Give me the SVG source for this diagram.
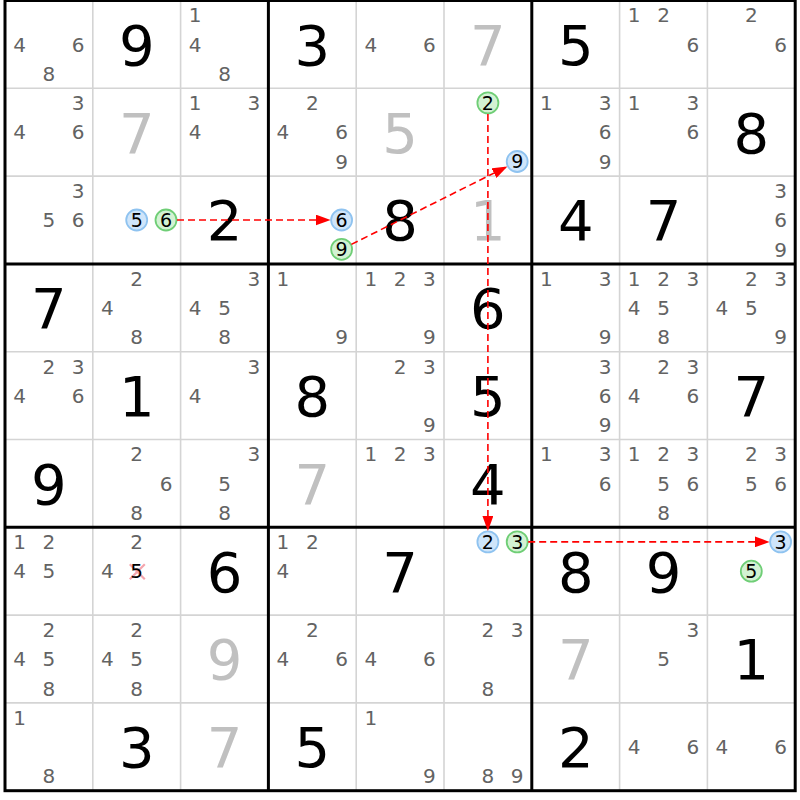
<svg xmlns="http://www.w3.org/2000/svg" width="800" height="800" viewBox="0 0 800 800">
<style>
text{font-family:"DejaVu Sans","Liberation Sans",sans-serif;text-anchor:middle}
.p{font-size:20px;fill:#636363}
.g{font-size:56px;fill:#000}
.s{font-size:56px;fill:#c0c0c0}
.ct{font-size:19px;fill:#000}
.cb{fill:#cfe5fa;stroke:#8fc3f0;stroke-width:1.8}
.cg{fill:#d3f2d3;stroke:#6fce76;stroke-width:1.8}
.thin{stroke:#d4d4d4;stroke-width:1.6}
.thick{stroke:#000;stroke-width:3}
.arr{stroke:#f00;stroke-width:1.6;stroke-dasharray:7 4;fill:none;marker-end:url(#ah)}
.x{stroke:#f4a4ac;stroke-width:2.2}
</style>
<defs>
<marker id="ah" markerUnits="userSpaceOnUse" markerWidth="15" markerHeight="11" refX="15" refY="5.5" orient="auto"><path d="M0,0 L15,5.5 L0,11 z" fill="#f00"/></marker>
</defs>
<rect x="0" y="0" width="800" height="800" fill="#fff"/>
<g id="grid">
<g class="thin">
<line x1="92.8" y1="0.5" x2="92.8" y2="790.7"/><line x1="180.6" y1="0.5" x2="180.6" y2="790.7"/>
<line x1="356.2" y1="0.5" x2="356.2" y2="790.7"/><line x1="444" y1="0.5" x2="444" y2="790.7"/>
<line x1="619.6" y1="0.5" x2="619.6" y2="790.7"/><line x1="707.4" y1="0.5" x2="707.4" y2="790.7"/>
<line x1="5" y1="88.3" x2="795.2" y2="88.3"/><line x1="5" y1="176.1" x2="795.2" y2="176.1"/>
<line x1="5" y1="351.7" x2="795.2" y2="351.7"/><line x1="5" y1="439.5" x2="795.2" y2="439.5"/>
<line x1="5" y1="615.1" x2="795.2" y2="615.1"/><line x1="5" y1="702.9" x2="795.2" y2="702.9"/>
</g>
<g class="thick">
<line x1="268.4" y1="0.5" x2="268.4" y2="790.7"/><line x1="531.8" y1="0.5" x2="531.8" y2="790.7"/>
<line x1="5" y1="263.9" x2="795.2" y2="263.9"/><line x1="5" y1="527.3" x2="795.2" y2="527.3"/>
<rect x="5" y="0.5" width="790.2" height="790.2" fill="none"/>
</g>
</g>
<g id="r1c1" transform="translate(5,0.5)"><text class="p" x="14.6" y="51.2">4</text><text class="p" x="73.2" y="51.2">6</text><text class="p" x="43.9" y="80.5">8</text></g>
<g id="r1c2" transform="translate(92.8,0.5)"><text class="g" x="43.9" y="64.3">9</text></g>
<g id="r1c3" transform="translate(180.6,0.5)"><text class="p" x="14.6" y="21.9">1</text><text class="p" x="14.6" y="51.2">4</text><text class="p" x="43.9" y="80.5">8</text></g>
<g id="r1c4" transform="translate(268.4,0.5)"><text class="g" x="43.9" y="64.3">3</text></g>
<g id="r1c5" transform="translate(356.2,0.5)"><text class="p" x="14.6" y="51.2">4</text><text class="p" x="73.2" y="51.2">6</text></g>
<g id="r1c6" transform="translate(444,0.5)"><text class="s" x="43.9" y="64.3">7</text></g>
<g id="r1c7" transform="translate(531.8,0.5)"><text class="g" x="43.9" y="64.3">5</text></g>
<g id="r1c8" transform="translate(619.6,0.5)"><text class="p" x="14.6" y="21.9">1</text><text class="p" x="43.9" y="21.9">2</text><text class="p" x="73.2" y="51.2">6</text></g>
<g id="r1c9" transform="translate(707.4,0.5)"><text class="p" x="43.9" y="21.9">2</text><text class="p" x="73.2" y="51.2">6</text></g>

<g id="r2c1" transform="translate(5,88.3)"><text class="p" x="73.2" y="21.9">3</text><text class="p" x="14.6" y="51.2">4</text><text class="p" x="73.2" y="51.2">6</text></g>
<g id="r2c2" transform="translate(92.8,88.3)"><text class="s" x="43.9" y="64.3">7</text></g>
<g id="r2c3" transform="translate(180.6,88.3)"><text class="p" x="14.6" y="21.9">1</text><text class="p" x="73.2" y="21.9">3</text><text class="p" x="14.6" y="51.2">4</text></g>
<g id="r2c4" transform="translate(268.4,88.3)"><text class="p" x="43.9" y="21.9">2</text><text class="p" x="14.6" y="51.2">4</text><text class="p" x="73.2" y="51.2">6</text><text class="p" x="73.2" y="80.5">9</text></g>
<g id="r2c5" transform="translate(356.2,88.3)"><text class="s" x="43.9" y="64.3">5</text></g>
<g id="r2c6" transform="translate(444,88.3)"><circle class="cg" cx="43.9" cy="14.6" r="10.5"/><text class="ct" x="43.9" y="21.5">2</text><circle class="cb" cx="73.2" cy="73.2" r="10.5"/><text class="ct" x="73.2" y="80.1">9</text></g>
<g id="r2c7" transform="translate(531.8,88.3)"><text class="p" x="14.6" y="21.9">1</text><text class="p" x="73.2" y="21.9">3</text><text class="p" x="73.2" y="51.2">6</text><text class="p" x="73.2" y="80.5">9</text></g>
<g id="r2c8" transform="translate(619.6,88.3)"><text class="p" x="14.6" y="21.9">1</text><text class="p" x="73.2" y="21.9">3</text><text class="p" x="73.2" y="51.2">6</text></g>
<g id="r2c9" transform="translate(707.4,88.3)"><text class="g" x="43.9" y="64.3">8</text></g>

<g id="r3c1" transform="translate(5,176.1)"><text class="p" x="73.2" y="21.9">3</text><text class="p" x="43.9" y="51.2">5</text><text class="p" x="73.2" y="51.2">6</text></g>
<g id="r3c2" transform="translate(92.8,176.1)"><circle class="cb" cx="43.9" cy="43.9" r="10.5"/><text class="ct" x="43.9" y="50.8">5</text><circle class="cg" cx="73.2" cy="43.9" r="10.5"/><text class="ct" x="73.2" y="50.8">6</text></g>
<g id="r3c3" transform="translate(180.6,176.1)"><text class="g" x="43.9" y="64.3">2</text></g>
<g id="r3c4" transform="translate(268.4,176.1)"><circle class="cb" cx="73.2" cy="43.9" r="10.5"/><text class="ct" x="73.2" y="50.8">6</text><circle class="cg" cx="73.2" cy="73.2" r="10.5"/><text class="ct" x="73.2" y="80.1">9</text></g>
<g id="r3c5" transform="translate(356.2,176.1)"><text class="g" x="43.9" y="64.3">8</text></g>
<g id="r3c6" transform="translate(444,176.1)"><text class="s" x="43.9" y="64.3">1</text></g>
<g id="r3c7" transform="translate(531.8,176.1)"><text class="g" x="43.9" y="64.3">4</text></g>
<g id="r3c8" transform="translate(619.6,176.1)"><text class="g" x="43.9" y="64.3">7</text></g>
<g id="r3c9" transform="translate(707.4,176.1)"><text class="p" x="73.2" y="21.9">3</text><text class="p" x="73.2" y="51.2">6</text><text class="p" x="73.2" y="80.5">9</text></g>

<g id="r4c1" transform="translate(5,263.9)"><text class="g" x="43.9" y="64.3">7</text></g>
<g id="r4c2" transform="translate(92.8,263.9)"><text class="p" x="43.9" y="21.9">2</text><text class="p" x="14.6" y="51.2">4</text><text class="p" x="43.9" y="80.5">8</text></g>
<g id="r4c3" transform="translate(180.6,263.9)"><text class="p" x="73.2" y="21.9">3</text><text class="p" x="14.6" y="51.2">4</text><text class="p" x="43.9" y="51.2">5</text><text class="p" x="43.9" y="80.5">8</text></g>
<g id="r4c4" transform="translate(268.4,263.9)"><text class="p" x="14.6" y="21.9">1</text><text class="p" x="73.2" y="80.5">9</text></g>
<g id="r4c5" transform="translate(356.2,263.9)"><text class="p" x="14.6" y="21.9">1</text><text class="p" x="43.9" y="21.9">2</text><text class="p" x="73.2" y="21.9">3</text><text class="p" x="73.2" y="80.5">9</text></g>
<g id="r4c6" transform="translate(444,263.9)"><text class="g" x="43.9" y="64.3">6</text></g>
<g id="r4c7" transform="translate(531.8,263.9)"><text class="p" x="14.6" y="21.9">1</text><text class="p" x="73.2" y="21.9">3</text><text class="p" x="73.2" y="80.5">9</text></g>
<g id="r4c8" transform="translate(619.6,263.9)"><text class="p" x="14.6" y="21.9">1</text><text class="p" x="43.9" y="21.9">2</text><text class="p" x="73.2" y="21.9">3</text><text class="p" x="14.6" y="51.2">4</text><text class="p" x="43.9" y="51.2">5</text><text class="p" x="43.9" y="80.5">8</text></g>
<g id="r4c9" transform="translate(707.4,263.9)"><text class="p" x="43.9" y="21.9">2</text><text class="p" x="73.2" y="21.9">3</text><text class="p" x="14.6" y="51.2">4</text><text class="p" x="43.9" y="51.2">5</text><text class="p" x="73.2" y="80.5">9</text></g>

<g id="r5c1" transform="translate(5,351.7)"><text class="p" x="43.9" y="21.9">2</text><text class="p" x="73.2" y="21.9">3</text><text class="p" x="14.6" y="51.2">4</text><text class="p" x="73.2" y="51.2">6</text></g>
<g id="r5c2" transform="translate(92.8,351.7)"><text class="g" x="43.9" y="64.3">1</text></g>
<g id="r5c3" transform="translate(180.6,351.7)"><text class="p" x="73.2" y="21.9">3</text><text class="p" x="14.6" y="51.2">4</text></g>
<g id="r5c4" transform="translate(268.4,351.7)"><text class="g" x="43.9" y="64.3">8</text></g>
<g id="r5c5" transform="translate(356.2,351.7)"><text class="p" x="43.9" y="21.9">2</text><text class="p" x="73.2" y="21.9">3</text><text class="p" x="73.2" y="80.5">9</text></g>
<g id="r5c6" transform="translate(444,351.7)"><text class="g" x="43.9" y="64.3">5</text></g>
<g id="r5c7" transform="translate(531.8,351.7)"><text class="p" x="73.2" y="21.9">3</text><text class="p" x="73.2" y="51.2">6</text><text class="p" x="73.2" y="80.5">9</text></g>
<g id="r5c8" transform="translate(619.6,351.7)"><text class="p" x="43.9" y="21.9">2</text><text class="p" x="73.2" y="21.9">3</text><text class="p" x="14.6" y="51.2">4</text><text class="p" x="73.2" y="51.2">6</text></g>
<g id="r5c9" transform="translate(707.4,351.7)"><text class="g" x="43.9" y="64.3">7</text></g>

<g id="r6c1" transform="translate(5,439.5)"><text class="g" x="43.9" y="64.3">9</text></g>
<g id="r6c2" transform="translate(92.8,439.5)"><text class="p" x="43.9" y="21.9">2</text><text class="p" x="73.2" y="51.2">6</text><text class="p" x="43.9" y="80.5">8</text></g>
<g id="r6c3" transform="translate(180.6,439.5)"><text class="p" x="73.2" y="21.9">3</text><text class="p" x="43.9" y="51.2">5</text><text class="p" x="43.9" y="80.5">8</text></g>
<g id="r6c4" transform="translate(268.4,439.5)"><text class="s" x="43.9" y="64.3">7</text></g>
<g id="r6c5" transform="translate(356.2,439.5)"><text class="p" x="14.6" y="21.9">1</text><text class="p" x="43.9" y="21.9">2</text><text class="p" x="73.2" y="21.9">3</text></g>
<g id="r6c6" transform="translate(444,439.5)"><text class="g" x="43.9" y="64.3">4</text></g>
<g id="r6c7" transform="translate(531.8,439.5)"><text class="p" x="14.6" y="21.9">1</text><text class="p" x="73.2" y="21.9">3</text><text class="p" x="73.2" y="51.2">6</text></g>
<g id="r6c8" transform="translate(619.6,439.5)"><text class="p" x="14.6" y="21.9">1</text><text class="p" x="43.9" y="21.9">2</text><text class="p" x="73.2" y="21.9">3</text><text class="p" x="43.9" y="51.2">5</text><text class="p" x="73.2" y="51.2">6</text><text class="p" x="43.9" y="80.5">8</text></g>
<g id="r6c9" transform="translate(707.4,439.5)"><text class="p" x="43.9" y="21.9">2</text><text class="p" x="73.2" y="21.9">3</text><text class="p" x="43.9" y="51.2">5</text><text class="p" x="73.2" y="51.2">6</text></g>

<g id="r7c1" transform="translate(5,527.3)"><text class="p" x="14.6" y="21.9">1</text><text class="p" x="43.9" y="21.9">2</text><text class="p" x="14.6" y="51.2">4</text><text class="p" x="43.9" y="51.2">5</text></g>
<g id="r7c2" transform="translate(92.8,527.3)"><text class="p" x="43.9" y="21.9">2</text><text class="p" x="14.6" y="51.2">4</text><line class="x" x1="37" y1="37" x2="52" y2="52"/><line class="x" x1="52" y1="37" x2="37" y2="52"/><text class="p" x="43.9" y="51.2" style="fill:#000">5</text></g>
<g id="r7c3" transform="translate(180.6,527.3)"><text class="g" x="43.9" y="64.3">6</text></g>
<g id="r7c4" transform="translate(268.4,527.3)"><text class="p" x="14.6" y="21.9">1</text><text class="p" x="43.9" y="21.9">2</text><text class="p" x="14.6" y="51.2">4</text></g>
<g id="r7c5" transform="translate(356.2,527.3)"><text class="g" x="43.9" y="64.3">7</text></g>
<g id="r7c6" transform="translate(444,527.3)"><circle class="cb" cx="43.9" cy="14.6" r="10.5"/><text class="ct" x="43.9" y="21.5">2</text><circle class="cg" cx="73.2" cy="14.6" r="10.5"/><text class="ct" x="73.2" y="21.5">3</text></g>
<g id="r7c7" transform="translate(531.8,527.3)"><text class="g" x="43.9" y="64.3">8</text></g>
<g id="r7c8" transform="translate(619.6,527.3)"><text class="g" x="43.9" y="64.3">9</text></g>
<g id="r7c9" transform="translate(707.4,527.3)"><circle class="cb" cx="73.2" cy="14.6" r="10.5"/><text class="ct" x="73.2" y="21.5">3</text><circle class="cg" cx="43.9" cy="43.9" r="10.5"/><text class="ct" x="43.9" y="50.8">5</text></g>

<g id="r8c1" transform="translate(5,615.1)"><text class="p" x="43.9" y="21.9">2</text><text class="p" x="14.6" y="51.2">4</text><text class="p" x="43.9" y="51.2">5</text><text class="p" x="43.9" y="80.5">8</text></g>
<g id="r8c2" transform="translate(92.8,615.1)"><text class="p" x="43.9" y="21.9">2</text><text class="p" x="14.6" y="51.2">4</text><text class="p" x="43.9" y="51.2">5</text><text class="p" x="43.9" y="80.5">8</text></g>
<g id="r8c3" transform="translate(180.6,615.1)"><text class="s" x="43.9" y="64.3">9</text></g>
<g id="r8c4" transform="translate(268.4,615.1)"><text class="p" x="43.9" y="21.9">2</text><text class="p" x="14.6" y="51.2">4</text><text class="p" x="73.2" y="51.2">6</text></g>
<g id="r8c5" transform="translate(356.2,615.1)"><text class="p" x="14.6" y="51.2">4</text><text class="p" x="73.2" y="51.2">6</text></g>
<g id="r8c6" transform="translate(444,615.1)"><text class="p" x="43.9" y="21.9">2</text><text class="p" x="73.2" y="21.9">3</text><text class="p" x="43.9" y="80.5">8</text></g>
<g id="r8c7" transform="translate(531.8,615.1)"><text class="s" x="43.9" y="64.3">7</text></g>
<g id="r8c8" transform="translate(619.6,615.1)"><text class="p" x="73.2" y="21.9">3</text><text class="p" x="43.9" y="51.2">5</text></g>
<g id="r8c9" transform="translate(707.4,615.1)"><text class="g" x="43.9" y="64.3">1</text></g>

<g id="r9c1" transform="translate(5,702.9)"><text class="p" x="14.6" y="21.9">1</text><text class="p" x="43.9" y="80.5">8</text></g>
<g id="r9c2" transform="translate(92.8,702.9)"><text class="g" x="43.9" y="64.3">3</text></g>
<g id="r9c3" transform="translate(180.6,702.9)"><text class="s" x="43.9" y="64.3">7</text></g>
<g id="r9c4" transform="translate(268.4,702.9)"><text class="g" x="43.9" y="64.3">5</text></g>
<g id="r9c5" transform="translate(356.2,702.9)"><text class="p" x="14.6" y="21.9">1</text><text class="p" x="73.2" y="80.5">9</text></g>
<g id="r9c6" transform="translate(444,702.9)"><text class="p" x="43.9" y="80.5">8</text><text class="p" x="73.2" y="80.5">9</text></g>
<g id="r9c7" transform="translate(531.8,702.9)"><text class="g" x="43.9" y="64.3">2</text></g>
<g id="r9c8" transform="translate(619.6,702.9)"><text class="p" x="14.6" y="51.2">4</text><text class="p" x="73.2" y="51.2">6</text></g>
<g id="r9c9" transform="translate(707.4,702.9)"><text class="p" x="14.6" y="51.2">4</text><text class="p" x="73.2" y="51.2">6</text></g>

<g id="connectors">
<path class="arr" d="M177,220 L330.6,220"/>
<path class="arr" d="M351.4,244.4 L507.4,166.4"/>
<path class="arr" d="M487.9,113.9 L487.9,530.9"/>
<path class="arr" d="M528.2,541.9 L769.6,541.9"/>
</g>
</svg>
